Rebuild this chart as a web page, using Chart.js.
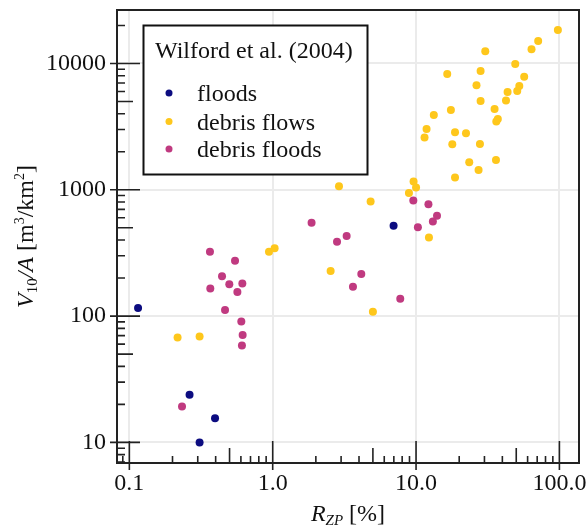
<!DOCTYPE html>
<html>
<head>
<meta charset="utf-8">
<script src="https://cdn.jsdelivr.net/npm/chart.js@4.4.1/dist/chart.umd.min.js"></script>
<style>
  html, body { margin: 0; padding: 0; background: #fff; }
  #wrap { width: 587px; height: 526px; position: relative; }
</style>
</head>
<body>
<div id="wrap"><canvas id="chart"></canvas></div>
<script>
// data (R_ZP in %, V10/A in m3/km2)
const floodsX = [0.115, 0.263, 0.396, 0.309, 6.97];
const floodsY = [116, 23.8, 15.5, 10.0, 518];

const debrisFlowsX = [0.217, 0.309, 0.942, 1.031, 2.535, 5.0, 4.82, 2.90, 8.92, 9.61, 10.0, 12.3,
  18.7, 11.46, 11.84, 13.3, 16.5, 17.5, 18.7, 17.9, 22.3, 23.5, 27.3, 27.9, 26.4, 28.2, 30.4,
  28.2, 35.3, 36.1, 36.3, 37.2, 42.4, 43.5, 50.8, 52.5, 49.2, 56.8, 63.9, 71.1, 97.6];
const debrisFlowsY = [67.7, 69, 323, 345, 228, 108, 807, 1067, 945, 1161, 1041, 419,
  1249, 2588, 3033, 3914, 8260, 4287, 2856, 2295, 2805, 1653, 1436, 2307, 6722, 8726, 12490,
  5050, 4365, 1724, 3466, 3638, 5080, 5950, 6060, 6637, 9910, 7864, 12950, 15070, 18410];

const debrisFloodsX = [0.365, 0.546, 0.443, 0.498, 0.614, 0.367, 0.567, 0.465, 0.604, 0.617, 0.61, 0.233,
  1.867, 2.81, 3.28, 4.15, 3.63, 7.76, 9.57, 12.2, 14.0, 13.1, 10.3];
const debrisFloodsY = [323, 274, 207, 179, 181, 165, 155, 111.5, 90.6, 70.8, 58.5, 19.2,
  547, 387, 430, 215, 171, 137, 822, 769, 622, 560, 506];

const seriesNames = ['floods', 'debris flows', 'debris floods'];
const seriesColors = ['#0c0c80', '#fec71c', '#c03a80'];
const legendTitle = 'Wilford et al. (2004)';

const xTicks = [0.1, 1, 10, 100];
const yTicks = [10, 100, 1000, 10000];

const serif = '"Liberation Serif", "Times New Roman", serif';
const ink = '#111';

function pts(xs, ys) {
  return xs.map((x, i) => ({ x: x, y: ys[i] }));
}

// draw a row of text pieces with different fonts, centred on cx
function drawRuns(ctx, runs, cx, baseY) {
  let total = 0;
  runs.forEach(r => {
    ctx.font = r.font;
    r.w = ctx.measureText(r.text).width;
    total += r.w;
  });
  let x = cx - total / 2;
  ctx.textAlign = 'left';
  ctx.textBaseline = 'alphabetic';
  runs.forEach(r => {
    ctx.font = r.font;
    ctx.fillText(r.text, x, baseY + (r.dy || 0));
    x += r.w;
  });
}

// tick marks with three lengths, plot frame, axis titles and the boxed legend
const decorations = {
  id: 'decorations',
  afterDatasetsDraw(chart) {
    const ctx = chart.ctx;
    const area = chart.chartArea;
    const xs = chart.scales.x;
    const ys = chart.scales.y;
    ctx.save();
    ctx.strokeStyle = '#222';
    ctx.lineWidth = 1.6;

    function eachMinor(scale, fn) {
      const lo = Math.floor(Math.log10(scale.min));
      const hi = Math.ceil(Math.log10(scale.max));
      for (let d = lo; d <= hi; d++) {
        for (let k = 1; k <= 9; k++) {
          const v = k * Math.pow(10, d);
          if (v < scale.min || v > scale.max) continue;
          fn(scale.getPixelForValue(v), k);
        }
      }
    }
    ctx.beginPath();
    eachMinor(ys, (p, k) => {
      const inner = k === 1 ? 23 : (k === 5 ? 16 : 8);
      const outer = k === 1 ? 7 : 0;
      ctx.moveTo(area.left - outer, p);
      ctx.lineTo(area.left + inner, p);
    });
    eachMinor(xs, (p, k) => {
      const inner = k === 1 ? 22 : (k === 5 ? 15 : 7);
      const outer = k === 1 ? 7 : 0;
      ctx.moveTo(p, area.bottom + outer);
      ctx.lineTo(p, area.bottom - inner);
    });
    ctx.stroke();

    ctx.lineWidth = 2;
    ctx.strokeRect(area.left, area.top, area.right - area.left, area.bottom - area.top);

    // legend
    const lx = 143.5, ly = 25.5, lw = 224, lh = 149;
    ctx.fillStyle = '#fff';
    ctx.fillRect(lx, ly, lw, lh);
    ctx.strokeStyle = '#111';
    ctx.lineWidth = 2;
    ctx.strokeRect(lx, ly, lw, lh);
    ctx.fillStyle = ink;
    ctx.font = '24px ' + serif;
    ctx.textAlign = 'left';
    ctx.textBaseline = 'alphabetic';
    ctx.fillText(legendTitle, 155, 58);
    const rowY = [93, 121.5, 149];
    seriesNames.forEach((name, i) => {
      ctx.fillStyle = seriesColors[i];
      ctx.beginPath();
      ctx.arc(169, rowY[i], 3.5, 0, Math.PI * 2);
      ctx.fill();
      ctx.fillStyle = ink;
      ctx.fillText(name, 197, rowY[i] + 8);
    });

    // x title: R_ZP [%]
    ctx.fillStyle = ink;
    drawRuns(ctx, [
      { text: 'R', font: 'italic 24px ' + serif },
      { text: 'ZP', font: 'italic 15px ' + serif, dy: 4 },
      { text: ' [%]', font: '24px ' + serif }
    ], (area.left + area.right) / 2, 521);

    // y title: V_10/A [m3/km2]
    ctx.translate(26, (area.top + area.bottom) / 2);
    ctx.rotate(-Math.PI / 2);
    drawRuns(ctx, [
      { text: 'V', font: 'italic 24px ' + serif },
      { text: '10', font: '15px ' + serif, dy: 4 },
      { text: '/A', font: 'italic 24px ' + serif },
      { text: ' [m', font: '24px ' + serif },
      { text: '3', font: '14px ' + serif, dy: -9 },
      { text: '/km', font: '24px ' + serif },
      { text: '2', font: '14px ' + serif, dy: -9 },
      { text: ']', font: '24px ' + serif }
    ], 0, 7);
    ctx.restore();
  }
};

function decadeTicks(values) {
  return scale => { scale.ticks = values.map(v => ({ value: v })); };
}

new Chart(document.getElementById('chart'), {
  type: 'scatter',
  data: {
    datasets: [
      { label: seriesNames[0], data: pts(floodsX, floodsY), backgroundColor: seriesColors[0] },
      { label: seriesNames[1], data: pts(debrisFlowsX, debrisFlowsY), backgroundColor: seriesColors[1] },
      { label: seriesNames[2], data: pts(debrisFloodsX, debrisFloodsY), backgroundColor: seriesColors[2] }
    ]
  },
  options: {
    responsive: true,
    maintainAspectRatio: false,
    animation: false,
    layout: { padding: { top: 10, right: 8, left: 0, bottom: 0 } },
    elements: { point: { radius: 4, borderWidth: 0, hoverRadius: 4 } },
    plugins: { legend: { display: false }, tooltip: { enabled: false } },
    scales: {
      x: {
        type: 'logarithmic',
        min: 0.082,
        max: 137,
        afterBuildTicks: decadeTicks(xTicks),
        afterFit: s => { s.height = 63; s.paddingLeft = 0; s.paddingRight = 0; },
        grid: { color: '#ebebeb', lineWidth: 2, drawTicks: false },
        border: { display: false },
        ticks: {
          autoSkip: false,
          maxRotation: 0,
          padding: 6,
          color: ink,
          font: { family: serif, size: 24 },
          callback: v => Number(v).toFixed(1)
        }
      },
      y: {
        type: 'logarithmic',
        min: 6.87,
        max: 26500,
        afterBuildTicks: decadeTicks(yTicks),
        afterFit: s => { s.width = 117; s.paddingTop = 0; s.paddingBottom = 0; },
        grid: { color: '#ebebeb', lineWidth: 2, drawTicks: false },
        border: { display: false },
        ticks: {
          autoSkip: false,
          padding: 11,
          color: ink,
          font: { family: serif, size: 24 },
          callback: v => String(v)
        }
      }
    }
  },
  plugins: [decorations]
});
</script>
</body>
</html>
